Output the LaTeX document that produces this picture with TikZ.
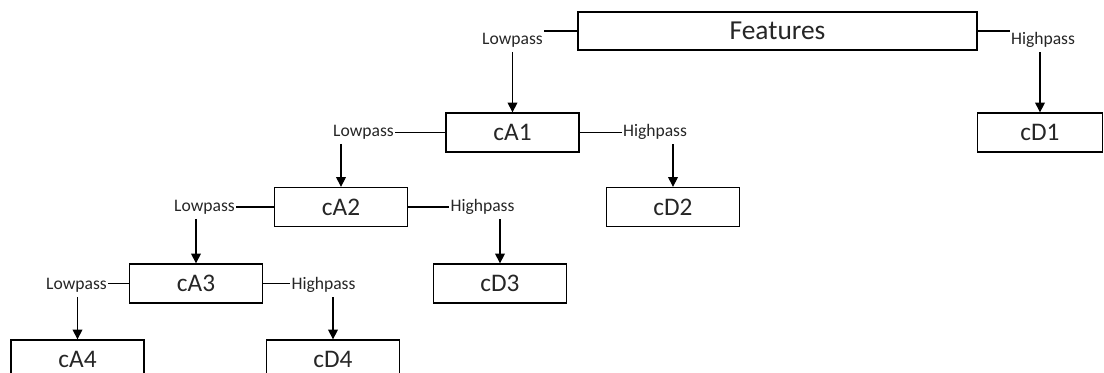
\documentclass[tikz,border=0pt]{standalone}
\usepackage{fontspec}
\setmainfont{Carlito}
\usetikzlibrary{arrows.meta}

\tikzset{
  coef/.style={draw, line width=0.9pt, minimum width=3.325cm, minimum height=0.975cm,
    inner sep=0pt, font=\fontsize{18}{20}\selectfont},
  band/.style={inner xsep=0.5pt, inner ysep=3pt, font=\fontsize{12.5}{14}\selectfont}
}

\begin{document}
\begin{tikzpicture}[x=0.025cm, y=-0.025cm, >={Triangle[length=7pt, width=7pt]}, line width=0.8pt, text=black!85]
    \useasboundingbox (0,0) rectangle (1104,373);

    \node[coef, minimum width=9.975cm, minimum height=0.95cm, font=\fontsize{19.5}{22}\selectfont] (feat) at (777.5, 31) {Features};
    \node[coef] (cA1) at (512.5, 132.5) {cA1};
    \node[coef, minimum width=3.125cm] (cD1) at (1040, 132.5) {cD1};
    \node[coef] (cA2) at (341, 207) {cA2};
    \node[coef] (cD2) at (673, 207) {cD2};
    \node[coef] (cA3) at (196, 283.5) {cA3};
    \node[coef] (cD3) at (500, 283.5) {cD3};
    \node[coef] (cA4) at (77.5, 359.5) {cA4};
    \node[coef] (cD4) at (333, 359.5) {cD4};

    \node[band] (lp1) at (512.5, 40) {Lowpass};
    \node[band] (hp1) at (1043, 40) {Highpass};
    \node[band] (lp2) at (363.5, 132) {Lowpass};
    \node[band] (hp2) at (655, 132) {Highpass};
    \node[band] (lp3) at (204.5, 207) {Lowpass};
    \node[band] (hp3) at (482.5, 207) {Highpass};
    \node[band] (lp4) at (76.5, 285) {Lowpass};
    \node[band] (hp4) at (323.5, 285) {Highpass};

    % lowpass branches
    \foreach \p/\l/\c in {feat/lp1/cA1, cA1/lp2/cA2, cA2/lp3/cA3, cA3/lp4/cA4}{
        \draw(\p.west)--(\p.west -| \l.east);
        \draw[->](\l.south -| \c.north)--(\c.north);
    }
    % highpass branches
    \foreach \p/\h/\c in {feat/hp1/cD1, cA1/hp2/cD2, cA2/hp3/cD3, cA3/hp4/cD4}{
        \draw(\p.east)--(\p.east -| \h.west);
        \draw[->](\h.south -| \c.north)--(\c.north);
    }
\end{tikzpicture}
\end{document}
